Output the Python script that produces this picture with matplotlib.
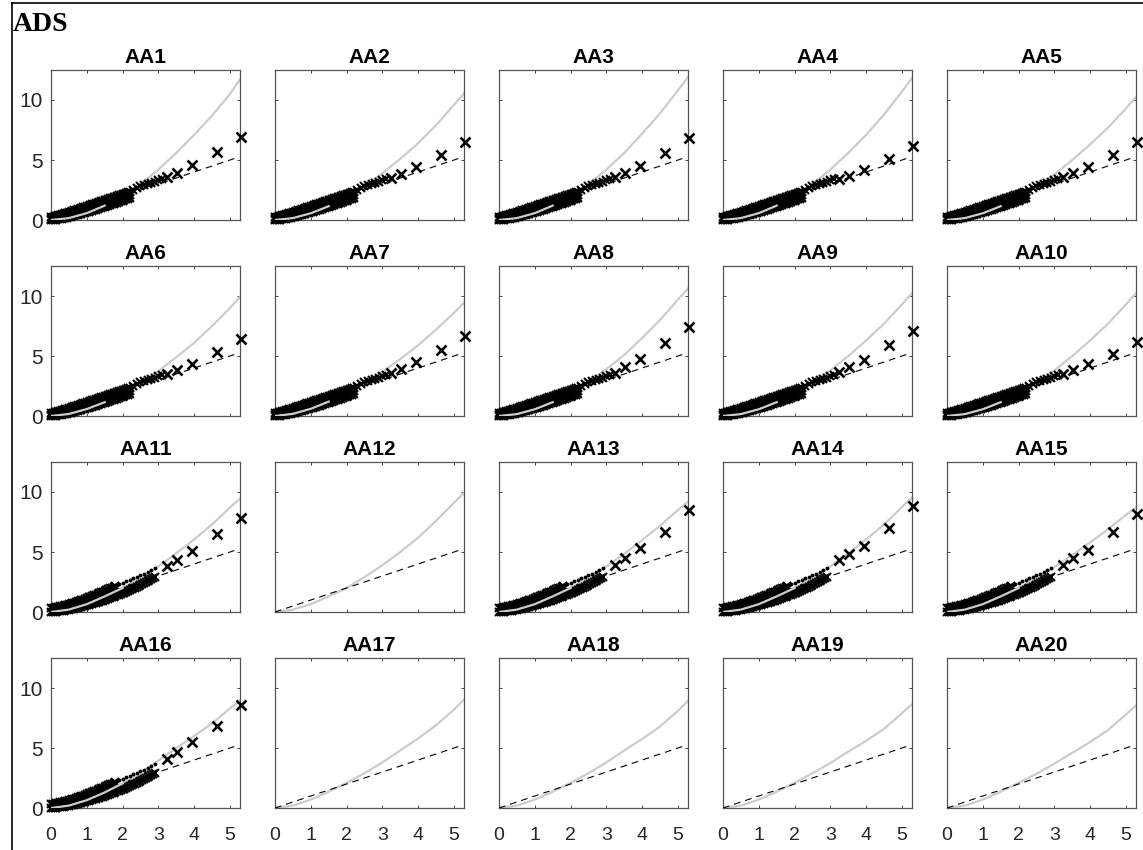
import matplotlib
matplotlib.use("Agg")
import matplotlib.pyplot as plt
from matplotlib.lines import Line2D

# ---- data ----
titles = ["AA%d" % i for i in range(1, 21)]

# grey reference curve, same x grid for every panel
grey_x = [0, 0.5, 1, 1.5, 2, 2.5, 3, 3.5, 4, 4.5, 5, 5.3]
grey_y = {
    "AA1": [0, 0.16, 0.57, 1.2, 2.0, 3.0, 4.2, 5.6, 7.1, 8.7, 10.5, 11.8],
    "AA2": [0, 0.16, 0.56, 1.15, 1.9, 2.8, 3.9, 5.1, 6.4, 7.9, 9.6, 10.6],
    "AA3": [0, 0.16, 0.57, 1.2, 2.0, 3.0, 4.2, 5.6, 7.2, 8.9, 10.8, 12.0],
    "AA4": [0, 0.16, 0.57, 1.2, 2.0, 3.0, 4.2, 5.6, 7.1, 8.8, 10.7, 11.9],
    "AA5": [0, 0.16, 0.56, 1.15, 1.9, 2.8, 3.8, 5.0, 6.3, 7.7, 9.3, 10.3],
    "AA6": [0, 0.17, 0.58, 1.15, 1.9, 2.75, 3.75, 4.9, 6.1, 7.5, 9.0, 10.0],
    "AA7": [0, 0.18, 0.6, 1.2, 1.9, 2.75, 3.7, 4.75, 5.9, 7.2, 8.6, 9.5],
    "AA8": [0, 0.16, 0.56, 1.15, 1.9, 2.8, 3.9, 5.1, 6.5, 8.0, 9.7, 10.7],
    "AA9": [0, 0.16, 0.56, 1.15, 1.9, 2.8, 3.8, 5.0, 6.3, 7.7, 9.3, 10.3],
    "AA10": [0, 0.16, 0.56, 1.15, 1.9, 2.8, 3.8, 5.0, 6.3, 7.7, 9.3, 10.3],
    "AA11": [0, 0.2, 0.65, 1.3, 2.0, 2.85, 3.8, 4.9, 6.05, 7.3, 8.7, 9.5],
    "AA12": [0, 0.2, 0.65, 1.3, 2.0, 2.9, 3.9, 5.0, 6.2, 7.6, 9.1, 10.0],
    "AA13": [0, 0.2, 0.65, 1.3, 2.0, 2.85, 3.8, 4.85, 6.0, 7.2, 8.5, 9.25],
    "AA14": [0, 0.2, 0.65, 1.3, 2.0, 2.85, 3.8, 4.9, 6.05, 7.3, 8.75, 9.6],
    "AA15": [0, 0.2, 0.65, 1.3, 2.0, 2.85, 3.75, 4.75, 5.8, 6.9, 8.1, 8.75],
    "AA16": [0, 0.2, 0.65, 1.3, 2.05, 2.95, 3.95, 5.0, 6.0, 7.05, 8.3, 9.0],
    "AA17": [0, 0.2, 0.7, 1.35, 2.1, 2.9, 3.8, 4.8, 5.8, 6.9, 8.2, 9.1],
    "AA18": [0, 0.2, 0.7, 1.35, 2.1, 2.9, 3.8, 4.8, 5.75, 6.8, 8.1, 9.0],
    "AA19": [0, 0.2, 0.7, 1.35, 2.1, 2.9, 3.75, 4.7, 5.6, 6.6, 7.9, 8.7],
    "AA20": [0, 0.2, 0.7, 1.35, 2.1, 2.85, 3.7, 4.6, 5.5, 6.5, 7.8, 8.6],
}

# dashed 1:1 line
ref_x = [0, 5.15]
ref_y = [0, 5.15]

# dense part of the empirical points, group A (AA1-AA10)
dense_a_x = [0.00, 0.05, 0.10, 0.15, 0.20, 0.25, 0.30, 0.35, 0.40, 0.45, 0.50,
             0.55, 0.60, 0.65, 0.70, 0.75, 0.80, 0.85, 0.90, 0.95, 1.00,
             1.05, 1.10, 1.15, 1.20, 1.25, 1.30, 1.35, 1.40, 1.45, 1.50,
             1.55, 1.60, 1.65, 1.70, 1.75, 1.80, 1.85, 1.90, 1.95, 2.00,
             2.05, 2.10, 2.15, 2.20]
low_a_y = [0.00, 0.01, 0.02, 0.04, 0.06, 0.08, 0.10, 0.13, 0.16, 0.20, 0.25,
           0.28, 0.32, 0.36, 0.40, 0.44, 0.48, 0.52, 0.56, 0.60, 0.65,
           0.69, 0.74, 0.78, 0.83, 0.87, 0.92, 0.96, 1.01, 1.05, 1.10,
           1.15, 1.20, 1.25, 1.30, 1.35, 1.40, 1.45, 1.50, 1.55, 1.60,
           1.65, 1.71, 1.76, 1.82]
mid_a_y = [0.11, 0.14, 0.17, 0.20, 0.24, 0.27, 0.30, 0.34, 0.37, 0.41, 0.45,
           0.49, 0.53, 0.58, 0.62, 0.67, 0.71, 0.76, 0.80, 0.85, 0.90,
           0.95, 1.00, 1.04, 1.09, 1.14, 1.19, 1.24, 1.28, 1.33, 1.38,
           1.43, 1.48, 1.53, 1.58, 1.63, 1.68, 1.73, 1.78, 1.83, 1.88,
           1.93, 1.98, 2.03, 2.08]
up_a_y = [0.22, 0.26, 0.30, 0.34, 0.38, 0.43, 0.47, 0.51, 0.56, 0.60, 0.65,
          0.70, 0.75, 0.80, 0.85, 0.90, 0.95, 1.00, 1.05, 1.10, 1.15,
          1.20, 1.25, 1.30, 1.35, 1.40, 1.45, 1.50, 1.55, 1.60, 1.65,
          1.70, 1.75, 1.80, 1.85, 1.90, 1.95, 2.00, 2.05, 2.10, 2.15,
          2.20, 2.25, 2.30, 2.35]
string_a_x = [2.3, 2.4, 2.5, 2.6, 2.7, 2.8, 2.9, 3.0, 3.1]
string_a_y = [2.5, 2.65, 2.8, 2.9, 3.0, 3.1, 3.2, 3.3, 3.4]

# dense part, group B (AA11, AA13-AA16)
dense_b_x = [0.00, 0.05, 0.10, 0.15, 0.20, 0.25, 0.30, 0.35, 0.40, 0.45, 0.50,
             0.55, 0.60, 0.65, 0.70, 0.75, 0.80, 0.85, 0.90, 0.95, 1.00,
             1.05, 1.10, 1.15, 1.20, 1.25, 1.30, 1.35, 1.40, 1.45, 1.50,
             1.55, 1.60, 1.65, 1.70, 1.75, 1.80, 1.85, 1.90, 1.95, 2.00,
             2.05, 2.10, 2.15, 2.20, 2.25, 2.30, 2.35, 2.40, 2.45, 2.50,
             2.55, 2.60, 2.65, 2.70, 2.75, 2.80, 2.85, 2.90]
low_b_y = [0.00, 0.01, 0.02, 0.03, 0.05, 0.07, 0.09, 0.11, 0.14, 0.16, 0.19,
           0.22, 0.26, 0.29, 0.33, 0.36, 0.40, 0.44, 0.47, 0.51, 0.55,
           0.59, 0.64, 0.68, 0.73, 0.77, 0.82, 0.86, 0.91, 0.95, 1.00,
           1.05, 1.11, 1.16, 1.22, 1.27, 1.33, 1.38, 1.44, 1.49, 1.55,
           1.62, 1.69, 1.76, 1.83, 1.90, 1.97, 2.04, 2.11, 2.18, 2.25,
           2.33, 2.41, 2.49, 2.57, 2.65, 2.73, 2.81, 2.90]
up_b_x = [0.00, 0.05, 0.10, 0.15, 0.20, 0.25, 0.30, 0.35, 0.40, 0.45, 0.50,
          0.55, 0.60, 0.65, 0.70, 0.75, 0.80, 0.85, 0.90, 0.95, 1.00,
          1.05, 1.10, 1.15, 1.20, 1.25, 1.30, 1.35, 1.40, 1.45, 1.50,
          1.55, 1.60, 1.65, 1.70, 1.75, 1.80]
up_b_y = [0.30, 0.33, 0.36, 0.40, 0.43, 0.47, 0.50, 0.54, 0.57, 0.61, 0.65,
          0.70, 0.74, 0.79, 0.83, 0.88, 0.93, 0.98, 1.04, 1.09, 1.15,
          1.21, 1.27, 1.33, 1.39, 1.45, 1.51, 1.57, 1.63, 1.69, 1.75,
          1.82, 1.89, 1.96, 2.03, 2.10, 2.16]
dot_b_x = [1.85, 1.9, 2.0, 2.1, 2.2, 2.3, 2.4, 2.5, 2.6, 2.7, 2.8, 2.9]
dot_b_y = [2.22, 2.30, 2.45, 2.57, 2.69, 2.81, 2.93, 3.05, 3.2, 3.35, 3.5, 3.7]

# sparse upper tail, per panel
tail_x = [3.24, 3.52, 3.94, 4.64, 5.3]
tail_y = {
    "AA1": [3.6, 3.9, 4.6, 5.7, 6.9],
    "AA2": [3.5, 3.8, 4.4, 5.4, 6.5],
    "AA3": [3.6, 3.9, 4.5, 5.6, 6.8],
    "AA4": [3.4, 3.7, 4.2, 5.1, 6.2],
    "AA5": [3.6, 3.9, 4.4, 5.4, 6.5],
    "AA6": [3.5, 3.8, 4.3, 5.3, 6.4],
    "AA7": [3.6, 3.9, 4.5, 5.5, 6.7],
    "AA8": [3.6, 4.1, 4.75, 6.1, 7.4],
    "AA9": [3.7, 4.1, 4.7, 5.9, 7.1],
    "AA10": [3.5, 3.8, 4.3, 5.2, 6.2],
    "AA11": [3.8, 4.3, 5.1, 6.5, 7.8],
    "AA13": [3.9, 4.5, 5.3, 6.7, 8.5],
    "AA14": [4.3, 4.8, 5.5, 7.0, 8.8],
    "AA15": [3.9, 4.5, 5.2, 6.7, 8.2],
    "AA16": [4.1, 4.7, 5.5, 6.8, 8.6],
}
group_a = ["AA%d" % i for i in range(1, 11)]
group_b = ["AA11", "AA13", "AA14", "AA15", "AA16"]

# ---- figure ----
W, H = 1143, 850
fig = plt.figure(figsize=(W / 100, H / 100), dpi=100)
plt.rcParams['font.family'] = ['Liberation Sans', 'DejaVu Sans']

ax_left, ax_top, ax_w, ax_h = 51, 70, 189, 150
col_step, row_step = 224, 196
grey = '#cccccc'
mk = dict(ls='none', marker='x', color='black', ms=6, mew=1.5, clip_on=False)

for i, name in enumerate(titles):
    r, c = divmod(i, 5)
    x0 = ax_left + c * col_step
    y0 = ax_top + r * row_step
    ax = fig.add_axes([x0 / W, 1 - (y0 + ax_h) / H, ax_w / W, ax_h / H])

    ax.plot(grey_x, grey_y[name], color=grey, lw=1.6, zorder=2)
    ax.plot(ref_x, ref_y, color='black', lw=0.8, dashes=(6, 4.5), zorder=3)

    if name in group_a:
        ax.plot(dense_a_x, low_a_y, zorder=4, **mk)
        ax.plot(dense_a_x, mid_a_y, zorder=4, **mk)
        ax.plot(dense_a_x, up_a_y, zorder=4, **mk)
        ax.plot(string_a_x, string_a_y, zorder=4, **mk)
        ax.plot(grey_x[:4], grey_y[name][:4], color=grey, lw=1.6, zorder=4.5)
    elif name in group_b:
        ax.plot(dense_b_x, low_b_y, zorder=4, **mk)
        ax.plot(up_b_x, up_b_y, zorder=4, **mk)
        ax.plot(dot_b_x, dot_b_y, ls='none', marker='.', color='black', ms=3.5, zorder=4)
        ax.plot(grey_x[:5], grey_y[name][:5], color=grey, lw=1.6, zorder=4.5)
    if name in tail_y:
        ax.plot(tail_x, tail_y[name], ls='none', marker='x', color='black',
                ms=6.5, mew=1.9, zorder=5, clip_on=False)

    ax.set_xlim(0, 5.28)
    ax.set_ylim(0, 12.5)
    ax.set_xticks([0, 1, 2, 3, 4, 5])
    ax.set_yticks([0, 5, 10])
    ax.tick_params(direction='in', length=2.5, width=0.7, top=True, right=True,
                   colors='#404040', labelcolor='#262626')
    ax.tick_params(axis='y', pad=6, labelsize=15)
    ax.tick_params(axis='x', pad=14, labelsize=14)
    if c != 0:
        ax.set_yticklabels([])
    if r != 3:
        ax.set_xticklabels([])
    for s in ax.spines.values():
        s.set_color('#555555')
        s.set_linewidth(0.9)
    ax.set_title(name, fontsize=15, fontweight='bold', pad=5)

# outer frame (left and top edges only are visible)
fig.add_artist(Line2D([12 / W, 12 / W], [0, 1 - 3 / H], color='black', lw=1.2,
                      transform=fig.transFigure))
fig.add_artist(Line2D([12 / W, 1], [1 - 3 / H, 1 - 3 / H], color='black', lw=1.2,
                      transform=fig.transFigure))
fig.text(13 / W, 1 - 31 / H, "ADS", family=['Liberation Serif', 'DejaVu Serif'],
         fontsize=20, fontweight='bold', ha='left', va='baseline')

fig.savefig("out.png", dpi=100)
